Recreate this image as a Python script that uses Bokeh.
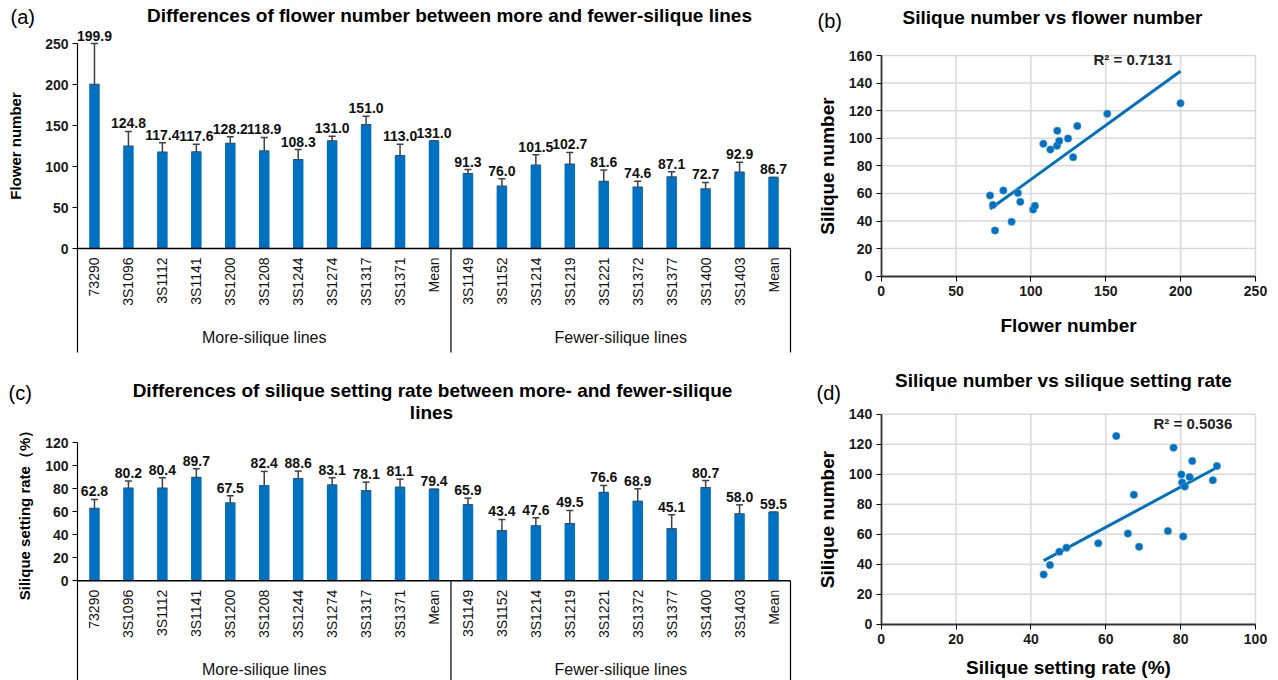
import numpy as np
from bokeh.plotting import figure
from bokeh.models import (Range1d, FixedTicker, Label, ColumnDataSource, Whisker, TeeHead,
                          LinearAxis)
from bokeh.embed import file_html
from bokeh.resources import INLINE
from bokeh.core.properties import value

W, H = 1278, 680
FONT = "Liberation Sans"
BLUE = "#0070C0"
ERR = "#404040"

# ---------------- data ----------------
more_lines = ["73290", "3S1096", "3S1112", "3S1141", "3S1200", "3S1208",
              "3S1244", "3S1274", "3S1317", "3S1371"]
fewer_lines = ["3S1149", "3S1152", "3S1214", "3S1219", "3S1221", "3S1372",
               "3S1377", "3S1400", "3S1403"]
categories = more_lines + ["Mean"] + fewer_lines + ["Mean"]
group_names = ["More-silique lines", "Fewer-silique lines"]

flower_mean = [199.9, 124.8, 117.4, 117.6, 128.2, 118.9, 108.3, 131.0, 151.0, 113.0, 131.0,
               91.3, 76.0, 101.5, 102.7, 81.6, 74.6, 87.1, 72.7, 92.9, 86.7]
flower_err = [50.1, 18.0, 11.5, 9.6, 8.0, 16.5, 12.4, 6.0, 10.4, 14.2, 0.0,
              5.0, 9.0, 12.7, 14.4, 14.0, 7.5, 6.4, 7.8, 12.4, 0.0]
rate_mean = [62.8, 80.2, 80.4, 89.7, 67.5, 82.4, 88.6, 83.1, 78.1, 81.1, 79.4,
             65.9, 43.4, 47.6, 49.5, 76.6, 68.9, 45.1, 80.7, 58.0, 59.5]
rate_err = [7.8, 6.3, 9.0, 7.5, 6.3, 12.5, 6.6, 6.3, 7.5, 7.1, 0.0,
            5.8, 9.8, 7.1, 11.5, 6.1, 10.9, 12.2, 6.3, 7.9, 0.0]

# per line (means excluded): silique number
silique_number = [125.4, 99.8, 94.5, 105.4, 86.3, 98.1, 96.0, 108.8, 117.7, 91.8,
                  60.4, 33.1, 48.3, 51.0, 62.1, 51.7, 39.4, 58.5, 53.9]
flower_number = [v for c, v in zip(categories, flower_mean) if c != "Mean"]
setting_rate = [v for c, v in zip(categories, rate_mean) if c != "Mean"]

flower_ticks = [0, 50, 100, 150, 200, 250]
rate_ticks = [0, 20, 40, 60, 80, 100, 120]
b_xticks = [0, 50, 100, 150, 200, 250]
b_yticks = [0, 20, 40, 60, 80, 100, 120, 140, 160]
d_xticks = [0, 20, 40, 60, 80, 100]
d_yticks = [0, 20, 40, 60, 80, 100, 120, 140]

r2_b = "R² = 0.7131"
r2_d = "R² = 0.5036"

# ---------------- one canvas-wide figure ----------------
p = figure(width=W, height=H, x_range=Range1d(0, W), y_range=Range1d(0, H),
           output_backend="svg", toolbar_location=None,
           x_axis_location=None, y_axis_location=None,
           min_border_left=0, min_border_right=0, min_border_top=0, min_border_bottom=0)
p.outline_line_color = None
p.grid.visible = False
p.background_fill_color = "white"


def add_xrange(name, v0, p0, v1, p1):
    s = (v1 - v0) / (p1 - p0)
    p.extra_x_ranges[name] = Range1d(v0 - p0 * s, v0 + (W - p0) * s)
    return s


def add_yrange(name, v0, p0, v1, p1):
    s = (v1 - v0) / (p0 - p1)
    p.extra_y_ranges[name] = Range1d(v0 - (H - p0) * s, v0 + p0 * s)
    return s


def style_axis(ax, size):
    ax.axis_line_color = "black"
    ax.axis_line_width = 1.2
    ax.major_tick_line_color = "black"
    ax.major_tick_in = 0
    ax.major_tick_out = 5
    ax.minor_tick_line_color = None
    ax.major_label_text_font = FONT
    ax.major_label_text_font_style = "bold"
    ax.major_label_text_font_size = size
    ax.major_label_text_color = "#1a1a1a"
    ax.axis_label_text_font = FONT
    ax.axis_label_text_font_style = "bold"
    ax.axis_label_text_color = "black"


def canvas_label(px, py, text, size, bold=False, align="left"):
    p.add_layout(Label(x=px, y=H - py, text=text, text_align=align, text_baseline="middle",
                       text_font=FONT, text_font_style="bold" if bold else "normal",
                       text_font_size=size, text_color="black"))


def bar_panel(key, values, errs, left_px, right_px, zero_px, top_px, box_bottom_px, yticks,
              ylabel, ylabel_standoff):
    n = len(categories)
    xn, yn = key + "x", key + "y"
    add_xrange(xn, -0.5, left_px, n - 0.5, right_px)
    upp = add_yrange(yn, 0, zero_px, yticks[-1], top_px)   # data units per pixel
    ybottom = -(box_bottom_px - zero_px) * upp
    kw = dict(x_range_name=xn, y_range_name=yn)

    ax = LinearAxis(ticker=FixedTicker(ticks=yticks), bounds=(yticks[0], yticks[-1]),
                    fixed_location=-0.5, axis_label=ylabel, **kw)
    style_axis(ax, "14px")
    ax.major_label_standoff = 4
    ax.axis_label_text_font_size = "15px"
    ax.axis_label_standoff = ylabel_standoff

    idx = list(range(n))
    tops = [v + e for v, e in zip(values, errs)]
    src = ColumnDataSource(dict(x=idx, top=values, upper=tops,
                                lab=["%.1f" % v for v in values],
                                laby=[t + 3 * upp for t in tops],
                                cat=categories, caty=[-9 * upp] * n))
    p.vbar(x="x", top="top", width=0.31, source=src, fill_color=BLUE, line_color=None, **kw)
    p.add_layout(Whisker(source=src, base="x", lower="top", upper="upper", dimension="height",
                         line_color=ERR, line_width=1.5,
                         upper_head=TeeHead(size=7, line_color=ERR, line_width=1.5),
                         lower_head=TeeHead(size=10, line_color=ERR, line_width=1.5), **kw))
    p.text(x="x", y="laby", text="lab", source=src, text_align="center",
           text_baseline="bottom", text_font=value(FONT), text_font_style="bold",
           text_font_size="14px", text_color="#111111", **kw)
    p.text(x="x", y="caty", text="cat", source=src, angle=np.pi / 2, text_align="right",
           text_baseline="middle", text_font=value(FONT), text_font_size="14px",
           text_color="#111111", **kw)

    nm = len(more_lines) + 1
    bounds = [-0.5, -0.5 + nm, n - 0.5]
    p.segment(x0=bounds, y0=[0] * 3, x1=bounds, y1=[ybottom] * 3, line_color="black",
              line_width=1.2, **kw)
    p.segment(x0=[-0.5], y0=[0], x1=[n - 0.5], y1=[0], line_color="black", line_width=1.5, **kw)
    gx = [(bounds[0] + bounds[1]) / 2, (bounds[1] + bounds[2]) / 2]
    p.text(x=gx, y=[-89 * upp] * 2, text=group_names, text_align="center",
           text_baseline="middle", text_font=value(FONT), text_font_size="16px",
           text_color="#111111", **kw)
    p.add_layout(ax, "left")


def scatter_panel(key, xs, ys, left_px, right_px, zero_px, top_px, xticks, yticks,
                  xlabel, ylabel, xlabel_standoff, r2, r2_px):
    xn, yn = key + "x", key + "y"
    add_xrange(xn, xticks[0], left_px, xticks[-1], right_px)
    add_yrange(yn, yticks[0], zero_px, yticks[-1], top_px)
    kw = dict(x_range_name=xn, y_range_name=yn)
    x_lo, x_hi, y_lo, y_hi = xticks[0], xticks[-1], yticks[0], yticks[-1]

    # light grid (also forms the top/right border)
    p.segment(x0=xticks[1:], y0=[y_lo] * (len(xticks) - 1), x1=xticks[1:],
              y1=[y_hi] * (len(xticks) - 1), line_color="#d9d9d9", line_width=1.5, **kw)
    p.segment(x0=[x_lo] * (len(yticks) - 1), y0=yticks[1:], x1=[x_hi] * (len(yticks) - 1),
              y1=yticks[1:], line_color="#d9d9d9", line_width=1.5, **kw)

    k, b = np.polyfit(xs, ys, 1)
    lx = np.array([min(xs), max(xs)])
    p.line(lx, k * lx + b, line_color=BLUE, line_width=3, **kw)
    p.scatter(xs, ys, size=7.5, fill_color=BLUE, line_color="#5aa0d8", line_width=0.6, **kw)

    xa = LinearAxis(ticker=FixedTicker(ticks=xticks), bounds=(x_lo, x_hi), fixed_location=y_lo,
                    axis_label=xlabel, **kw)
    ya = LinearAxis(ticker=FixedTicker(ticks=yticks), bounds=(y_lo, y_hi), fixed_location=x_lo,
                    axis_label=ylabel, **kw)
    for ax in (xa, ya):
        style_axis(ax, "14px")
        ax.axis_line_color = "#333333"
        ax.axis_line_width = 1.8
        ax.axis_label_text_font_size = "19px"
    xa.major_label_standoff = 5
    ya.major_label_standoff = 4
    xa.axis_label_standoff = xlabel_standoff
    ya.axis_label_standoff = 8
    p.add_layout(xa, "below")
    p.add_layout(ya, "left")
    p.add_layout(Label(x=r2_px[0], y=H - r2_px[1], text=r2, text_align="left",
                       text_baseline="middle", text_font=FONT, text_font_style="bold",
                       text_font_size="15px", text_color="#222222"))


bar_panel("a", flower_mean, flower_err, 77, 790, 248, 43, 352, flower_ticks,
          "Flower number", 18)
bar_panel("c", rate_mean, rate_err, 77, 790, 580.3, 442, 682, rate_ticks,
          "Silique setting rate（%）", 9)
scatter_panel("b", flower_number, silique_number, 880.7, 1255, 275.7, 55, b_xticks, b_yticks,
              "Flower number", "Silique number", 15, r2_b, (1093, 59))
scatter_panel("d", setting_rate, silique_number, 880.7, 1255, 623.7, 413.7, d_xticks, d_yticks,
              "Silique setting rate (%)", "Silique number", 9, r2_d, (1153, 423))

# titles and panel letters
canvas_label(449, 15, "Differences of flower number between more and fewer-silique lines",
             "19px", bold=True, align="center")
canvas_label(432, 390, "Differences of silique setting rate between more- and fewer-silique",
             "19px", bold=True, align="center")
canvas_label(431, 412, "lines", "19px", bold=True, align="center")
canvas_label(1052, 17, "Silique number vs flower number", "19px", bold=True, align="center")
canvas_label(1063, 380, "Silique number vs silique setting rate", "19px", bold=True,
             align="center")
canvas_label(10, 16, "(a)", "20px")
canvas_label(817, 20, "(b)", "20px")
canvas_label(8, 392, "(c)", "20px")
canvas_label(816, 392, "(d)", "20px")

open("out.html", "w").write(file_html(p, INLINE))
